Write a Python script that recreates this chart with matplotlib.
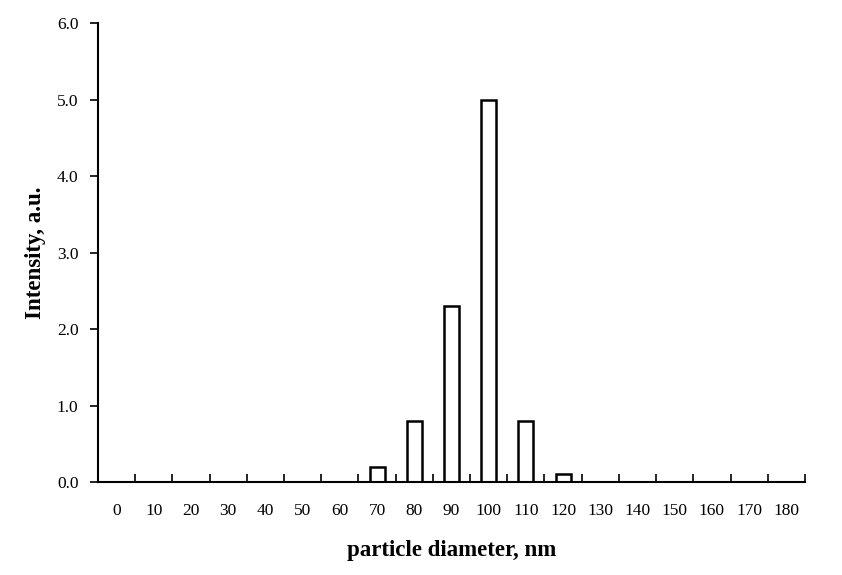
import matplotlib.pyplot as plt
import numpy as np

# particle size distribution
diameters = [0, 10, 20, 30, 40, 50, 60, 70, 80, 90, 100, 110, 120, 130, 140, 150, 160, 170, 180]
intensity = [0, 0, 0, 0, 0, 0, 0, 0.2, 0.8, 2.3, 5.0, 0.8, 0.1, 0, 0, 0, 0, 0, 0]

plt.rcParams['font.family'] = ['Liberation Serif', 'DejaVu Serif']

fig = plt.figure(figsize=(8.42, 5.75), dpi=100)
ax = fig.add_axes([0.1164, 0.1617, 0.8396, 0.7983])

x = np.arange(len(diameters))
vals = np.array(intensity)
mask = vals > 0
ax.bar(x[mask], vals[mask], width=0.4, facecolor='white', edgecolor='black', linewidth=1.8)

ax.set_xlim(-0.5, len(diameters) - 0.5)
ax.set_ylim(0, 6)
ax.set_yticks(np.arange(0, 6.1, 1.0))
ax.set_yticklabels(['%.1f' % v for v in np.arange(0, 6.1, 1.0)], fontsize=12.5)

ax.set_xticks(x)
ax.set_xticklabels([str(d) for d in diameters], fontsize=12.5)
ax.tick_params(axis='x', which='major', length=0, pad=15)
ax.set_xticks(np.arange(0.5, len(diameters), 1.0), minor=True)
ax.tick_params(axis='x', which='minor', direction='in', length=6, width=1.2)
ax.tick_params(axis='y', direction='out', length=6, width=1.2, pad=8)

for s in ['top', 'right']:
    ax.spines[s].set_visible(False)
for s in ['left', 'bottom']:
    ax.spines[s].set_linewidth(1.5)

ax.set_xlabel('particle diameter, nm', fontsize=16.5, fontweight='bold', labelpad=15)
ax.set_ylabel('Intensity, a.u.', fontsize=16.5, fontweight='bold', labelpad=8)

fig.savefig('out.png', dpi=100)
